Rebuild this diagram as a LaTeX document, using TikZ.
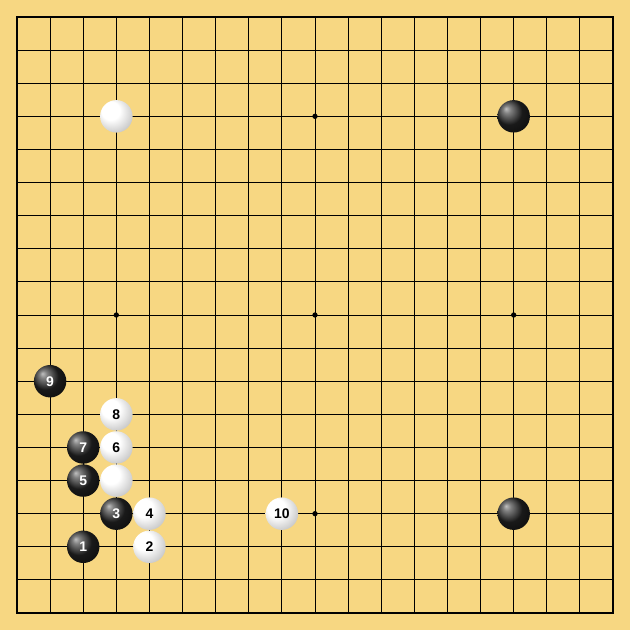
\documentclass[tikz,border=0pt]{standalone}
\usepackage{fontspec}
\setmainfont{Liberation Sans}
\definecolor{wood}{RGB}{247,215,130}
\pgfdeclareradialshading{blackball}{\pgfpoint{-12bp}{12bp}}{color(0bp)=(black!25); color(6bp)=(black!50); color(20bp)=(black!90); color(50bp)=(black)}
\pgfdeclareradialshading{whiteball}{\pgfpoint{-12bp}{12bp}}{color(0bp)=(white); color(14bp)=(white); color(30bp)=(black!20); color(42bp)=(black!40); color(50bp)=(black!52)}
\begin{document}
\begin{tikzpicture}[x=1cm, y=-1cm,
    bstone/.style={circle,shading=blackball,minimum size=0.98cm,inner sep=0pt,text=white,font=\fontsize{12}{12}\selectfont\bfseries},
    wstone/.style={circle,shading=whiteball,minimum size=0.98cm,inner sep=0pt,text=black,font=\fontsize{12}{12}\selectfont\bfseries},
    hoshi/.style={circle,fill=black,inner sep=0pt,minimum size=0.16cm}]
  % board
  \fill[wood] (-0.513,-0.513) rectangle (18.513,18.513);
  \foreach \i in {0,...,18} {
    \draw[line width=0.8pt] (\i,0) -- (\i,18);
    \draw[line width=0.8pt] (0,\i) -- (18,\i);
  }
  \draw[line width=1.7pt] (0,0) rectangle (18,18);
  \foreach \x/\y [count=\n] in {3/3,9/3,15/3,3/9,9/9,15/9,3/15,9/15,15/15}
    \node[hoshi] (h\n) at (\x,\y) {};
  % stones
  \node[wstone] (wa) at (3,3) {};
  \node[bstone] (ba) at (15,3) {};
  \node[bstone] (bb) at (15,15) {};
  \node[wstone] (wb) at (3,14) {};
  \node[bstone] (m1) at (2,16) {1};
  \node[wstone] (m2) at (4,16) {2};
  \node[bstone] (m3) at (3,15) {3};
  \node[wstone] (m4) at (4,15) {4};
  \node[bstone] (m5) at (2,14) {5};
  \node[wstone] (m6) at (3,13) {6};
  \node[bstone] (m7) at (2,13) {7};
  \node[wstone] (m8) at (3,12) {8};
  \node[bstone] (m9) at (1,11) {9};
  \node[wstone] (m10) at (8,15) {10};
\end{tikzpicture}
\end{document}
